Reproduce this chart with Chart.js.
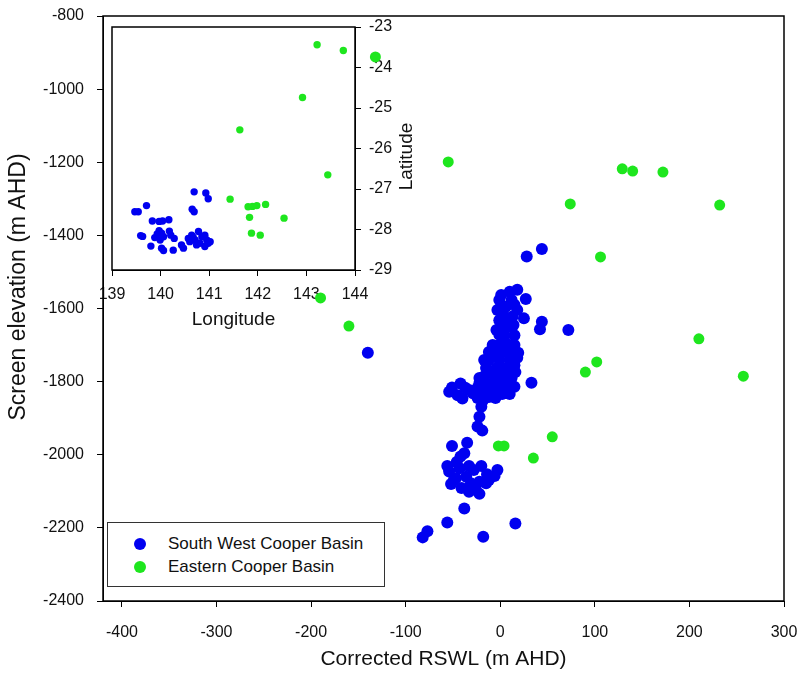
<!DOCTYPE html>
<html>
<head>
<meta charset="utf-8">
<script src="https://cdn.jsdelivr.net/npm/chart.js@4/dist/chart.umd.min.js"></script>
<style>
  body { margin: 0; background: #fff; }
  #wrap { position: relative; width: 801px; height: 675px; }
  #main { position: absolute; left: 0; top: 0; z-index: 2; }
  #inset { position: absolute; left: 100px; top: 10px; z-index: 1; }
  #legend {
    position: absolute; left: 107px; top: 522px; width: 276px; height: 63px;
    border: 1px solid #333; background: #fff; z-index: 3;
    font: 17px "Liberation Sans", Arial, sans-serif; color: #111;
  }
  #legend div { position: absolute; left: 0; height: 22px; line-height: 22px; }
  #legend span.dot { position: absolute; left: 26px; top: 5px; width: 12px; height: 12px; border-radius: 50%; }
  #legend span.txt { position: absolute; left: 60px; white-space: nowrap; }
</style>
</head>
<body>
<div id="wrap">
  <canvas id="inset" width="340" height="330"></canvas>
  <canvas id="main" width="801" height="675"></canvas>
  <div id="legend">
    <div style="top:10px"><span class="dot" style="background:#0000f0"></span><span class="txt">South West Cooper Basin</span></div>
    <div style="top:33px"><span class="dot" style="background:#1ee61e"></span><span class="txt">Eastern Cooper Basin</span></div>
  </div>
</div>
<script>
// main plot: corrected RSWL vs screen elevation
var swX = [28, 44, 1, 10, 18, 27, 6, 4, 1, -1, 10, 13, 25, 44, 42, 72, 19, 33, 15, -51,
           -42, -45, -33, -29, -40, -20, -22, -24, -19, -35, -38, -42, -51, -54, -49, -43, -36, -28, -31, -22,
           -15, -6, -12, -33, -47, -38, -56, -77, -82, -18, 16, -140,
           4, -1, 10, -6, 4, 13, -12, -1, 10, 15, -15, -4, 6, -17, -6, 4, 12, -22, -12, -1,
           7, -17, -6, 2, -12, -3, 15, 7, -4, 15,
           -1, 12, 2, 18, -1, 14, 4, -8, 15, -12, -3, 18, -17, 5, -9, 16, -22, -3, -14, 10, -5,
           -54, -37, -24, -24, -18,
           -56, -46, -33, -20, -52, -41, -26, -14, -3, -22];
var swY = [-1458, -1437, -1563, -1554, -1549, -1574, -1595, -1622, -1650, -1672, -1650, -1622, -1627, -1636, -1657, -1659, -1721, -1803, -1814, -1816,
           -1805, -1837, -1823, -1832, -1846, -1869, -1896, -1923, -1934, -1967, -1996, -2005, -1976, -2046, -2069, -2037, -2060, -2042, -2078, -2074,
           -2078, -2058, -2069, -2101, -2064, -2147, -2185, -2209, -2226, -2224, -2188, -1721,
           -1686, -1700, -1700, -1719, -1719, -1719, -1741, -1741, -1741, -1755, -1763, -1763, -1763, -1785, -1785, -1785, -1790, -1804, -1807, -1807,
           -1812, -1828, -1828, -1834, -1842, -1604, -1590, -1632, -1659, -1673,
           -1577, -1577, -1604, -1604, -1632, -1645, -1673, -1700, -1700, -1719, -1733, -1735, -1741, -1774, -1774, -1774, -1790, -1796, -1823, -1834, -1845,
           -1828, -1817, -1817, -1845, -1850,
           -2031, -2020, -2031, -2031, -2080, -2091, -2096, -2053, -2042, -2107];
var ecX = [-132, -55, 129, 140, 172, 74, 232, 106, 210, 102, 90, 257, -190, -160, -2, 4, 55, 35];
var ecY = [-912, -1199, -1218, -1224, -1227, -1314, -1317, -1459, -1683, -1746, -1774, -1785, -1571, -1648, -1976, -1976, -1951, -2009];
var xTicks = [-400, -300, -200, -100, 0, 100, 200, 300];
var yTicks = [-2400, -2200, -2000, -1800, -1600, -1400, -1200, -1000, -800];

// inset map: longitude / latitude
var swLon = [140.69, 140.93, 140.98, 139.71, 139.47, 139.54, 140.65, 140.69, 139.83, 139.97, 140.04, 140.17, 139.59, 139.63, 139.88,
             139.97, 140.02, 139.93, 140.06, 139.99, 140.18, 140.21, 140.28, 139.80, 140.02, 140.06, 140.26, 140.43, 140.47,
             140.57, 140.64, 140.71, 140.78, 140.85, 140.91, 140.95, 141.02, 140.81, 140.74, 140.91, 140.98, 140.60, 140.67];
var swLat = [-27.07, -27.10, -27.24, -27.41, -27.56, -27.56, -27.50, -27.56, -27.79, -27.80, -27.79, -27.76, -28.15, -28.17, -28.20,
             -28.03, -28.09, -28.11, -28.18, -28.26, -28.04, -28.14, -28.22, -28.41, -28.46, -28.52, -28.51, -28.38, -28.46,
             -28.22, -28.14, -28.26, -28.05, -28.18, -28.14, -28.26, -28.30, -28.34, -28.38, -28.42, -28.34, -28.30, -28.19];
var ecLon = [143.22, 143.76, 142.92, 141.63, 143.44, 141.43, 141.80, 141.89, 141.98, 142.16, 141.83, 142.54, 141.87, 142.05];
var ecLat = [-23.44, -23.58, -24.74, -25.54, -26.65, -27.25, -27.44, -27.43, -27.41, -27.38, -27.70, -27.72, -28.09, -28.14];
var lonTicks = [139, 140, 141, 142, 143, 144];
var latTicks = [-29, -28, -27, -26, -25, -24, -23];

var blue = '#0000f0';
var green = '#1ee61e';
var fam = "'Liberation Sans', Arial, sans-serif";

function pts(xs, ys) {
  return xs.map(function (x, i) { return { x: x, y: ys[i] }; });
}
function plain(v) { return String(v); }

var frame = {
  id: 'frame',
  beforeDatasetsDraw: function (c) {
    var a = c.chartArea, ctx = c.ctx;
    ctx.save();
    ctx.strokeStyle = '#000';
    ctx.lineWidth = 1.5;
    ctx.strokeRect(a.left, a.top, a.right - a.left, a.bottom - a.top);
    ctx.restore();
  }
};

// rotated axis title drawn at a given centre
function sideTitle(id, text, size, dx, dy) {
  return {
    id: id,
    afterDraw: function (c) {
      var a = c.chartArea, ctx = c.ctx;
      ctx.save();
      ctx.translate(dx(a), dy(a));
      ctx.rotate(-Math.PI / 2);
      ctx.font = size + 'px ' + fam;
      ctx.fillStyle = '#111';
      ctx.textAlign = 'center';
      ctx.textBaseline = 'middle';
      ctx.fillText(text, 0, 0);
      ctx.restore();
    }
  };
}

new Chart(document.getElementById('main'), {
  type: 'scatter',
  data: {
    datasets: [
      { label: 'South West Cooper Basin', data: pts(swX, swY), backgroundColor: blue, borderColor: blue, borderWidth: 0, pointRadius: 6 },
      { label: 'Eastern Cooper Basin', data: pts(ecX, ecY), backgroundColor: green, borderColor: green, borderWidth: 0, pointRadius: 5.5 }
    ]
  },
  options: {
    responsive: false,
    animation: false,
    layout: { padding: { top: 16, right: 17, left: 0, bottom: 0 } },
    plugins: { legend: { display: false }, tooltip: { enabled: false } },
    scales: {
      x: {
        type: 'linear', min: -420, max: 300,
        afterBuildTicks: function (s) { s.ticks = xTicks.map(function (v) { return { value: v }; }); },
        afterFit: function (s) { s.height = 74; s.paddingLeft = 0; s.paddingRight = 0; },
        grid: { drawOnChartArea: false, tickLength: 6, color: '#000' },
        border: { color: '#000', width: 1 },
        ticks: { color: '#111', font: { family: fam, size: 16 }, padding: 16, maxRotation: 0, callback: plain },
        title: { display: true, text: 'Corrected RSWL (m AHD)', color: '#111', font: { family: fam, size: 21 }, padding: { top: 0, bottom: 3 } }
      },
      y: {
        type: 'linear', min: -2400, max: -800,
        afterBuildTicks: function (s) { s.ticks = yTicks.map(function (v) { return { value: v }; }); },
        afterFit: function (s) { s.width = 103; s.paddingTop = 0; s.paddingBottom = 0; },
        grid: { drawOnChartArea: false, tickLength: 6, color: '#000' },
        border: { color: '#000', width: 1 },
        ticks: { color: '#111', font: { family: fam, size: 16 }, padding: 13, callback: plain }
      }
    }
  },
  plugins: [frame, sideTitle('yTitle', 'Screen elevation (m AHD)', 23,
    function (a) { return 19; }, function (a) { return 287; })]
});

new Chart(document.getElementById('inset'), {
  type: 'scatter',
  data: {
    datasets: [
      { data: pts(swLon, swLat), backgroundColor: blue, borderColor: blue, borderWidth: 0, pointRadius: 3.7 },
      { data: pts(ecLon, ecLat), backgroundColor: green, borderColor: green, borderWidth: 0, pointRadius: 3.7 }
    ]
  },
  options: {
    responsive: false,
    animation: false,
    layout: { padding: { top: 17, left: 12, right: 0, bottom: 0 } },
    plugins: { legend: { display: false }, tooltip: { enabled: false } },
    scales: {
      x: {
        type: 'linear', min: 139, max: 144,
        afterBuildTicks: function (s) { s.ticks = lonTicks.map(function (v) { return { value: v }; }); },
        afterFit: function (s) { s.height = 70; s.paddingLeft = 0; s.paddingRight = 0; },
        grid: { drawOnChartArea: false, tickLength: 6, color: '#000' },
        border: { color: '#000', width: 1 },
        ticks: { color: '#111', font: { family: fam, size: 16 }, padding: 9, maxRotation: 0, callback: plain },
        title: { display: true, text: 'Longitude', color: '#111', font: { family: fam, size: 19 }, padding: { top: 0, bottom: 9 } }
      },
      y: {
        type: 'linear', position: 'right', min: -29, max: -23,
        afterBuildTicks: function (s) { s.ticks = latTicks.map(function (v) { return { value: v }; }); },
        afterFit: function (s) { s.width = 85; s.paddingTop = 0; s.paddingBottom = 0; },
        grid: { drawOnChartArea: false, tickLength: 6, color: '#000' },
        border: { color: '#000', width: 1 },
        ticks: { color: '#111', font: { family: fam, size: 16 }, padding: 8, callback: plain }
      }
    }
  },
  plugins: [frame, sideTitle('latTitle', 'Latitude', 19,
    function (a) { return a.right + 52; }, function (a) { return (a.top + a.bottom) / 2 + 8; })]
});
</script>
</body>
</html>
